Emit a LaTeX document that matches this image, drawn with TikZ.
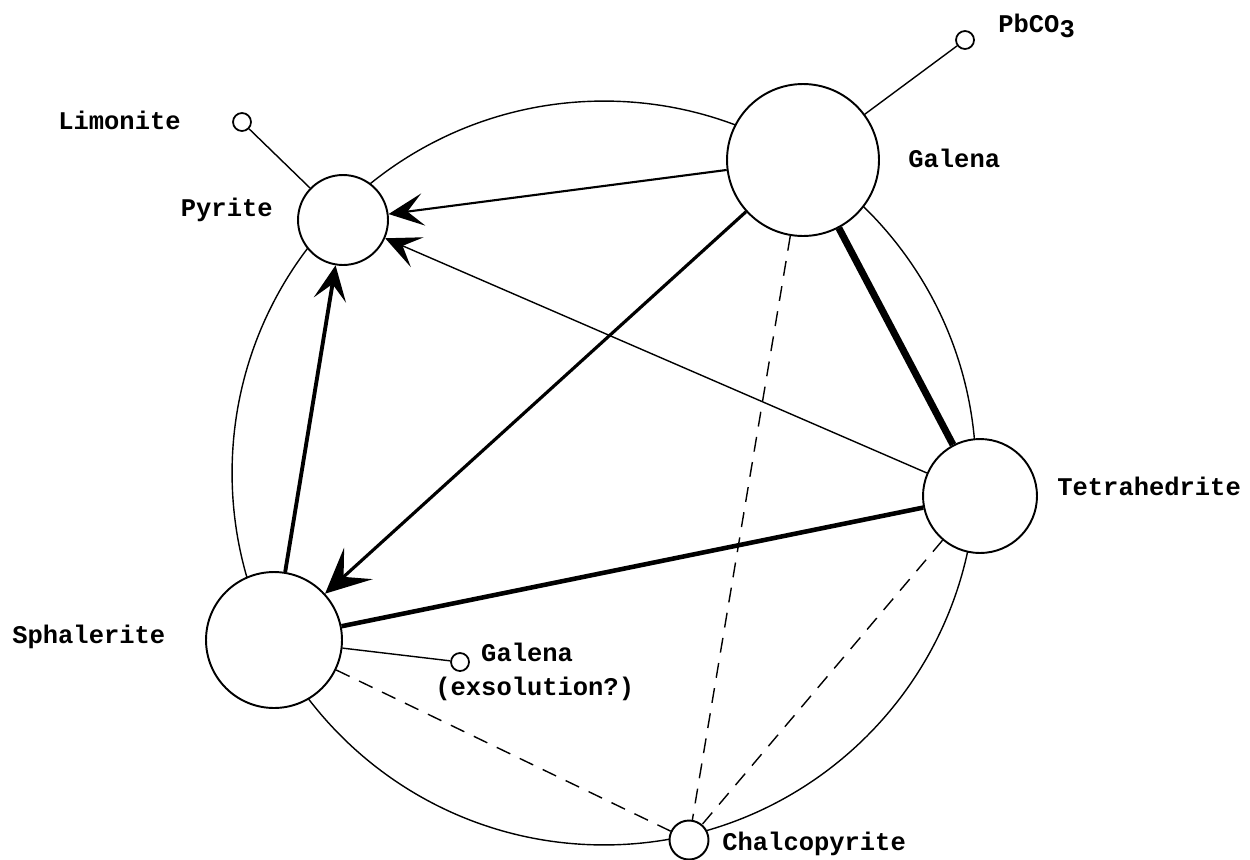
\documentclass[tikz,border=0pt]{standalone}
\usepackage{fontspec}
\setmainfont{Liberation Mono}
\usetikzlibrary{arrows.meta}

\begin{document}
\begin{tikzpicture}[x=0.02cm, y=-0.02cm,
        mineral/.style={circle, draw, line width=1.1pt, fill=white, inner sep=0pt},
        trace/.style={circle, draw, line width=1pt, fill=white, inner sep=0pt, minimum size=0.36cm},
        mname/.style={font=\fontsize{14.5}{19}\selectfont\bfseries, inner sep=0pt},
        thinline/.style={line width=0.8pt},
        dashline/.style={line width=0.8pt, dash pattern=on 8.5pt off 6pt},
        tip/.style={-{Stealth[length=7mm, width=6.5mm, inset=3.2mm]}},
        bigtip/.style={-{Stealth[length=9mm, width=8.5mm, inset=4mm]}}
    ]
        \useasboundingbox (0,0) rectangle (1250,859);

        % Ring
        \coordinate (hub) at (604,473);
        \draw[thinline] (hub) circle[radius=7.44cm];

        % Main minerals
        \node[mineral, minimum size=3.04cm] (galena) at (803,160) {};
        \node[mineral, minimum size=1.8cm] (pyrite) at (343,220) {};
        \node[mineral, minimum size=2.28cm] (tetra) at (980,496) {};
        \node[mineral, minimum size=2.72cm] (sphal) at (274,640) {};
        \node[mineral, minimum size=0.78cm] (chalco) at (689,840) {};

        % Minor phases
        \node[trace] (pbco) at (965,40) {};
        \node[trace] (limon) at (242,122) {};
        \node[trace] (exsol) at (460,662) {};

        % Labels
        \node[mname, anchor=base west] (galenaLbl) at (908,167) {Galena};
        \node[mname, anchor=base west] (pbcoLbl) at (998,32) {PbCO\raisebox{-0.4ex}{3}};
        \node[mname, anchor=base east] (limonLbl) at (181,129) {Limonite};
        \node[mname, anchor=base east] (pyriteLbl) at (273,216) {Pyrite};
        \node[mname, anchor=base west] (sphalLbl) at (12,643) {Sphalerite};
        \node[mname, anchor=base west] (tetraLbl) at (1057,495) {Tetrahedrite};
        \node[mname, anchor=base west] (chalcoLbl) at (722,850) {Chalcopyrite};
        \node[mname, anchor=north west, align=left] (exsolLbl) at (435,643) {\hphantom{(ex}Galena\\(exsolution?)};

        % Replacement arrows
        \draw[tip, line width=1.2pt] (galena) -- (pyrite);
        \draw[tip, thinline] (tetra) -- (pyrite);
        \draw[tip, line width=2.2pt] (sphal) -- (pyrite);
        \draw[bigtip, line width=1.8pt] (galena) -- (sphal);

        % Intergrowths
        \draw[line width=4pt] (galena) -- (tetra);
        \draw[line width=2.6pt] (tetra) -- (sphal);

        % Chalcopyrite
        \draw[dashline] (galena) -- (chalco);
        \draw[dashline] (tetra) -- (chalco);
        \draw[dashline] (sphal) -- (chalco);

        % Alteration and exsolution
        \draw[thinline] (sphal) -- (exsol);
        \draw[thinline] (pyrite) -- (limon);
        \draw[thinline] (galena) -- (pbco);

    \end{tikzpicture}
\end{document}
